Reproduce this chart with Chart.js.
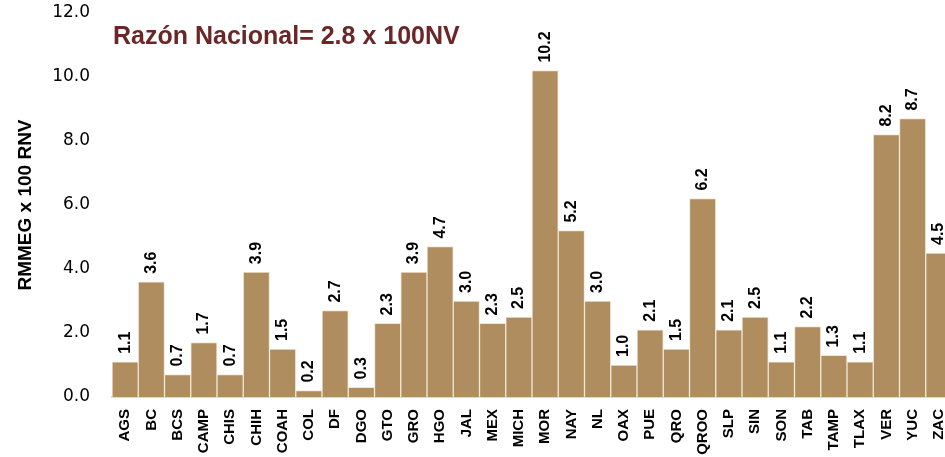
<!DOCTYPE html>
<html>
<head>
<meta charset="utf-8">
<script src="https://cdn.jsdelivr.net/npm/chart.js@4.4.1/dist/chart.umd.min.js"></script>
<style>
  html, body { margin: 0; padding: 0; background: #fff; overflow: hidden; }
  .wrap { width: 952px; height: 457px; position: relative; }
</style>
</head>
<body>
<div class="wrap"><canvas id="razonChart"></canvas></div>
<script>
// Estados
const states = ['AGS', 'BC', 'BCS', 'CAMP', 'CHIS', 'CHIH', 'COAH', 'COL', 'DF', 'DGO',
    'GTO', 'GRO', 'HGO', 'JAL', 'MEX', 'MICH', 'MOR', 'NAY', 'NL', 'OAX', 'PUE', 'QRO',
    'QROO', 'SLP', 'SIN', 'SON', 'TAB', 'TAMP', 'TLAX', 'VER', 'YUC', 'ZAC'];

// RMMEG x 100 RNV por estado
const razon = [1.1, 3.6, 0.7, 1.7, 0.7, 3.9, 1.5, 0.2, 2.7, 0.3,
    2.3, 3.9, 4.7, 3.0, 2.3, 2.5, 10.2, 5.2, 3.0, 1.0, 2.1, 1.5,
    6.2, 2.1, 2.5, 1.1, 2.2, 1.3, 1.1, 8.2, 8.7, 4.5];

const yTicks = [0, 2, 4, 6, 8, 10, 12];
const nationalLabel = 'Razón Nacional= 2.8 x 100NV';

// Etiquetas de valor giradas sobre cada barra + texto de razón nacional
const barLabels = {
    id: 'barLabels',
    afterDatasetsDraw(chart) {
        const ctx = chart.ctx;
        const meta = chart.getDatasetMeta(0);
        ctx.save();
        ctx.fillStyle = '#000';
        ctx.font = 'bold 16px "Liberation Sans", Arial, sans-serif';
        ctx.textAlign = 'left';
        ctx.textBaseline = 'middle';
        meta.data.forEach((bar, i) => {
            ctx.save();
            ctx.translate(bar.x, bar.y - 8);
            ctx.rotate(-Math.PI / 2);
            ctx.fillText(razon[i].toFixed(1), 0, 0);
            ctx.restore();
        });
        ctx.fillStyle = '#6B2727';
        ctx.font = 'bold 25px "Liberation Sans", Arial, sans-serif';
        ctx.fillText(nationalLabel, chart.chartArea.left + 1, 37);
        ctx.restore();
    }
};

const ctx = document.getElementById('razonChart').getContext('2d');
new Chart(ctx, {
    type: 'bar',
    data: {
        labels: states,
        datasets: [{
            data: razon,
            backgroundColor: '#B08D5E',
            borderColor: '#EFE6D8',
            borderWidth: 1,
            barPercentage: 1,
            categoryPercentage: 1
        }]
    },
    options: {
        responsive: true,
        maintainAspectRatio: false,
        animation: false,
        layout: { padding: { top: 13, left: 0, right: 0, bottom: 0 } },
        plugins: {
            legend: { display: false },
            tooltip: { enabled: false }
        },
        scales: {
            x: {
                grid: { display: false },
                border: { display: true, color: '#D9D9D9', width: 2 },
                ticks: {
                    color: '#000',
                    autoSkip: false,
                    maxRotation: 90,
                    minRotation: 90,
                    padding: 4,
                    font: { family: '"Liberation Sans", Arial, sans-serif', size: 15, weight: 'bold' }
                },
                afterFit(scale) {
                    scale.height = 60;
                    scale.paddingLeft = 0;
                    scale.paddingRight = 0;
                }
            },
            y: {
                min: 0,
                max: 12,
                afterBuildTicks(scale) { scale.ticks = yTicks.map(v => ({ value: v })); },
                grid: { display: false },
                border: { display: false },
                ticks: {
                    color: '#000',
                    padding: 14,
                    callback: v => v.toFixed(1),
                    font: { family: '"DejaVu Sans", sans-serif', size: 17 }
                },
                title: {
                    display: true,
                    text: 'RMMEG x 100 RNV',
                    color: '#000',
                    font: { family: '"Liberation Sans", Arial, sans-serif', size: 19, weight: 'bold' },
                    padding: { top: 14, bottom: 0 }
                },
                afterFit(scale) {
                    scale.width = 112;
                    scale.paddingTop = 0;
                    scale.paddingBottom = 0;
                }
            }
        }
    },
    plugins: [barLabels]
});
</script>
</body>
</html>
